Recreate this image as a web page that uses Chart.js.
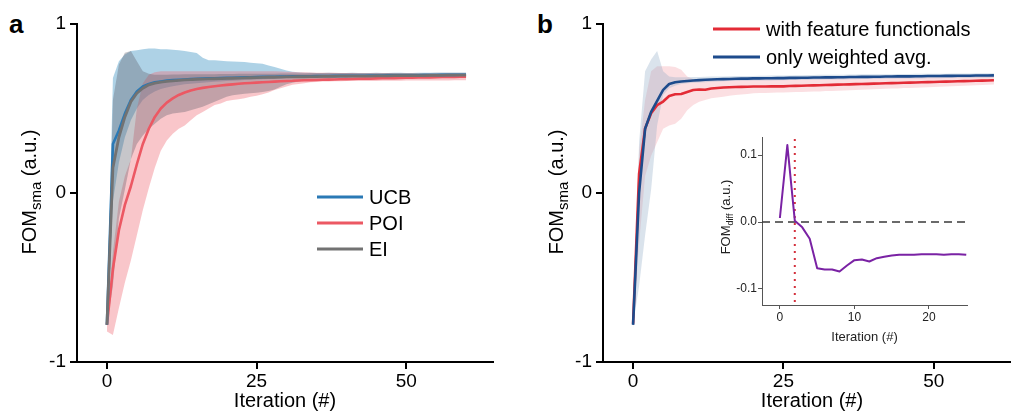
<!DOCTYPE html>
<html>
<head>
<meta charset="utf-8">
<script src="https://cdn.jsdelivr.net/npm/chart.js@4.4.1/dist/chart.umd.min.js"></script>
<style>
  html, body { margin: 0; padding: 0; background: #fff; overflow: hidden; }
  body { position: relative; width: 1011px; height: 413px; font-family: "Liberation Sans", Arial, sans-serif; }
  canvas { position: absolute; }
  .tag { position: absolute; font-size: 26px; font-weight: bold; line-height: 1; color: #000; }
</style>
</head>
<body>
<div class="tag" style="left:9px; top:11px">a</div>
<div class="tag" style="left:537px; top:11px">b</div>
<canvas id="panelA" width="505" height="413" style="left:0; top:0"></canvas>
<canvas id="panelB" width="530" height="413" style="left:510px; top:0"></canvas>
<canvas id="inset" width="300" height="225" style="left:690px; top:125px"></canvas>
<script>
// x positions: optimisation iterations
const iterations = Array.from({length: 61}, (_, i) => i);
const diffIterations = Array.from({length: 26}, (_, i) => i);

const xTickValues = [0, 25, 50];
const xTickLabels = ['0', '25', '50'];
const yTickValues = [-1, 0, 1];
const yTickLabels = ['-1', '0', '1'];
const insetXTicks = [0, 10, 20];
const insetXLabels = ['0', '10', '20'];
const insetYTicks = [-0.1, 0, 0.1];
const insetYLabels = ['-0.1', '0.0', '0.1'];

// panel a: acquisition functions, mean and spread
const acqNames = ['UCB', 'POI', 'EI'];
const acqColors = ['#2a79b5', '#ec5863', '#727272'];
const acqBandColors = ['rgba(120,180,214,0.6)', 'rgba(238,104,116,0.38)', 'rgba(96,96,108,0.36)'];

const ucbMean = [
  -0.78, 0.29, 0.37, 0.47, 0.55, 0.60, 0.63, 0.645, 0.655, 0.66,
  0.665, 0.668, 0.67, 0.672, 0.674, 0.676, 0.677, 0.678, 0.679, 0.68,
  0.681, 0.682, 0.683, 0.684, 0.685, 0.686, 0.687, 0.688, 0.688, 0.689,
  0.689, 0.69, 0.69, 0.691, 0.691, 0.692, 0.692, 0.692, 0.693, 0.693,
  0.693, 0.694, 0.694, 0.694, 0.695, 0.695, 0.695, 0.696, 0.696, 0.696,
  0.697, 0.697, 0.697, 0.698, 0.698, 0.698, 0.699, 0.699, 0.699, 0.70,
  0.70];
const ucbLow = [
  -0.78, -0.05, 0.18, 0.33, 0.43, 0.50, 0.55, 0.58, 0.60, 0.615,
  0.625, 0.632, 0.638, 0.643, 0.647, 0.65, 0.653, 0.656, 0.658, 0.66,
  0.662, 0.664, 0.666, 0.668, 0.67, 0.672, 0.673, 0.675, 0.676, 0.678,
  0.679, 0.68, 0.681, 0.682, 0.683, 0.684, 0.684, 0.685, 0.685, 0.686,
  0.686, 0.687, 0.687, 0.688, 0.688, 0.688, 0.689, 0.689, 0.69, 0.69,
  0.69, 0.691, 0.691, 0.692, 0.692, 0.692, 0.693, 0.693, 0.693, 0.694,
  0.694];
const ucbHigh = [
  -0.78, 0.68, 0.78, 0.82, 0.84, 0.845, 0.85, 0.855, 0.855, 0.85,
  0.85, 0.848, 0.845, 0.84, 0.835, 0.828, 0.80, 0.785, 0.785, 0.782,
  0.78, 0.778, 0.776, 0.775, 0.77, 0.768, 0.765, 0.755, 0.745, 0.735,
  0.725, 0.718, 0.714, 0.712, 0.711, 0.71, 0.71, 0.711, 0.71, 0.71,
  0.71, 0.711, 0.71, 0.71, 0.71, 0.711, 0.71, 0.71, 0.711, 0.711,
  0.71, 0.71, 0.711, 0.711, 0.712, 0.711, 0.711, 0.712, 0.712, 0.712,
  0.712];

const poiMean = [
  -0.78, -0.45, -0.22, -0.07, 0.04, 0.17, 0.29, 0.38, 0.45, 0.50,
  0.535, 0.56, 0.58, 0.595, 0.607, 0.615, 0.622, 0.627, 0.632, 0.636,
  0.64, 0.643, 0.646, 0.649, 0.651, 0.653, 0.655, 0.657, 0.659, 0.661,
  0.663, 0.664, 0.666, 0.667, 0.668, 0.669, 0.67, 0.671, 0.672, 0.673,
  0.674, 0.675, 0.676, 0.677, 0.677, 0.678, 0.679, 0.68, 0.68, 0.681,
  0.682, 0.682, 0.683, 0.684, 0.684, 0.685, 0.686, 0.686, 0.687, 0.688,
  0.688];
const poiLow = [
  -0.82, -0.84, -0.68, -0.53, -0.40, -0.25, -0.10, 0.03, 0.15, 0.25,
  0.31, 0.35, 0.38, 0.40, 0.43, 0.46, 0.48, 0.50, 0.52, 0.53,
  0.545, 0.55, 0.555, 0.56, 0.57, 0.575, 0.585, 0.595, 0.61, 0.62,
  0.63, 0.64, 0.645, 0.65, 0.655, 0.657, 0.66, 0.66, 0.661, 0.661,
  0.662, 0.662, 0.662, 0.663, 0.663, 0.663, 0.664, 0.664, 0.664, 0.664,
  0.665, 0.665, 0.665, 0.665, 0.666, 0.666, 0.666, 0.666, 0.667, 0.667,
  0.667];
const poiHigh = [
  -0.78, -0.35, -0.05, 0.10, 0.20, 0.50, 0.65, 0.70, 0.715, 0.72,
  0.72, 0.72, 0.72, 0.72, 0.72, 0.72, 0.72, 0.72, 0.72, 0.72,
  0.72, 0.72, 0.721, 0.721, 0.72, 0.72, 0.72, 0.72, 0.72, 0.719,
  0.718, 0.716, 0.715, 0.714, 0.713, 0.712, 0.712, 0.711, 0.711, 0.71,
  0.71, 0.71, 0.709, 0.709, 0.709, 0.708, 0.708, 0.708, 0.707, 0.707,
  0.707, 0.707, 0.706, 0.706, 0.706, 0.706, 0.705, 0.705, 0.705, 0.705,
  0.705];

const eiMean = [
  -0.78, 0.15, 0.33, 0.45, 0.54, 0.59, 0.62, 0.64, 0.65, 0.656,
  0.66, 0.664, 0.667, 0.669, 0.671, 0.673, 0.674, 0.675, 0.676, 0.677,
  0.678, 0.679, 0.68, 0.681, 0.682, 0.683, 0.684, 0.685, 0.685, 0.686,
  0.687, 0.687, 0.688, 0.688, 0.689, 0.689, 0.69, 0.69, 0.69, 0.691,
  0.691, 0.691, 0.692, 0.692, 0.692, 0.693, 0.693, 0.693, 0.694, 0.694,
  0.694, 0.695, 0.695, 0.695, 0.696, 0.696, 0.696, 0.697, 0.697, 0.697,
  0.698];
const eiLow = [
  -0.78, -0.55, -0.15, 0.02, 0.20, 0.29, 0.34, 0.38, 0.41, 0.44,
  0.46, 0.47, 0.475, 0.48, 0.49, 0.50, 0.51, 0.525, 0.54, 0.555,
  0.57, 0.578, 0.583, 0.587, 0.59, 0.593, 0.597, 0.603, 0.613, 0.628,
  0.643, 0.653, 0.66, 0.665, 0.668, 0.671, 0.673, 0.675, 0.677, 0.678,
  0.679, 0.68, 0.681, 0.682, 0.683, 0.683, 0.684, 0.684, 0.685, 0.685,
  0.686, 0.686, 0.687, 0.687, 0.687, 0.688, 0.688, 0.688, 0.689, 0.689,
  0.689];
const eiHigh = [
  -0.78, 0.55, 0.76, 0.83, 0.84, 0.78, 0.72, 0.705, 0.70, 0.70,
  0.70, 0.701, 0.701, 0.702, 0.702, 0.702, 0.703, 0.703, 0.703, 0.704,
  0.704, 0.704, 0.705, 0.705, 0.705, 0.706, 0.706, 0.706, 0.706, 0.707,
  0.707, 0.707, 0.707, 0.707, 0.708, 0.708, 0.708, 0.708, 0.708, 0.708,
  0.709, 0.709, 0.709, 0.709, 0.709, 0.709, 0.709, 0.71, 0.71, 0.71,
  0.71, 0.71, 0.71, 0.71, 0.71, 0.711, 0.711, 0.711, 0.711, 0.711,
  0.711];

// panel b: descriptor sets
const setNames = ['with feature functionals', 'only weighted avg.'];
const setColors = ['#e32b36', '#1d4b8c'];
const setBandColors = ['rgba(240,128,140,0.25)', 'rgba(140,168,196,0.32)'];

const featMean = [
  -0.774, 0.115, 0.382, 0.472, 0.52, 0.541, 0.574, 0.584, 0.586, 0.598,
  0.609, 0.612, 0.611, 0.618, 0.621, 0.624, 0.626, 0.627, 0.628, 0.629,
  0.63, 0.63, 0.63, 0.631, 0.632, 0.631, 0.633, 0.634, 0.635, 0.636,
  0.637, 0.638, 0.639, 0.64, 0.641, 0.642, 0.643, 0.644, 0.645, 0.646,
  0.647, 0.648, 0.649, 0.65, 0.651, 0.652, 0.653, 0.654, 0.655, 0.656,
  0.657, 0.658, 0.659, 0.66, 0.661, 0.662, 0.663, 0.664, 0.665, 0.666,
  0.667];
const featLow = [
  -0.80, -0.30, 0.10, 0.22, 0.30, 0.38, 0.40, 0.41, 0.44, 0.49,
  0.52, 0.54, 0.55, 0.56, 0.565, 0.57, 0.575, 0.58, 0.583, 0.586,
  0.59, 0.591, 0.592, 0.593, 0.594, 0.595, 0.596, 0.597, 0.598, 0.599,
  0.60, 0.601, 0.603, 0.604, 0.605, 0.607, 0.608, 0.61, 0.611, 0.612,
  0.614, 0.615, 0.617, 0.618, 0.619, 0.621, 0.622, 0.623, 0.625, 0.626,
  0.627, 0.629, 0.63, 0.632, 0.633, 0.634, 0.636, 0.637, 0.639, 0.64,
  0.642];
const featHigh = [
  -0.76, 0.25, 0.55, 0.72, 0.75, 0.75, 0.75, 0.745, 0.73, 0.69,
  0.675, 0.672, 0.67, 0.67, 0.67, 0.671, 0.672, 0.672, 0.673, 0.673,
  0.674, 0.674, 0.675, 0.675, 0.676, 0.676, 0.677, 0.677, 0.678, 0.678,
  0.679, 0.679, 0.68, 0.68, 0.681, 0.681, 0.682, 0.682, 0.683, 0.683,
  0.684, 0.684, 0.685, 0.685, 0.686, 0.686, 0.687, 0.687, 0.688, 0.688,
  0.689, 0.689, 0.69, 0.69, 0.691, 0.691, 0.692, 0.692, 0.693, 0.693,
  0.694];

const wavgMean = [
  -0.78, 0.00, 0.38, 0.48, 0.545, 0.61, 0.645, 0.655, 0.66, 0.663,
  0.666, 0.668, 0.67, 0.672, 0.673, 0.674, 0.675, 0.676, 0.677, 0.677,
  0.678, 0.678, 0.679, 0.679, 0.68, 0.68, 0.681, 0.681, 0.682, 0.682,
  0.683, 0.683, 0.684, 0.684, 0.685, 0.685, 0.686, 0.686, 0.687, 0.687,
  0.688, 0.688, 0.689, 0.689, 0.69, 0.69, 0.69, 0.691, 0.691, 0.692,
  0.692, 0.692, 0.693, 0.693, 0.694, 0.694, 0.694, 0.695, 0.695, 0.695,
  0.696];
const wavgLow = [
  -0.78, -0.55, -0.25, 0.02, 0.40, 0.58, 0.62, 0.635, 0.645, 0.65,
  0.652, 0.654, 0.656, 0.658, 0.66, 0.661, 0.662, 0.663, 0.664, 0.664,
  0.665, 0.665, 0.666, 0.666, 0.667, 0.667, 0.668, 0.668, 0.669, 0.669,
  0.67, 0.67, 0.671, 0.671, 0.672, 0.672, 0.673, 0.673, 0.674, 0.674,
  0.675, 0.675, 0.676, 0.676, 0.677, 0.677, 0.678, 0.678, 0.678, 0.679,
  0.679, 0.679, 0.68, 0.68, 0.681, 0.681, 0.681, 0.682, 0.682, 0.682,
  0.683];
const wavgHigh = [
  -0.78, 0.30, 0.72, 0.79, 0.84, 0.72, 0.69, 0.685, 0.685, 0.685,
  0.686, 0.687, 0.688, 0.689, 0.69, 0.69, 0.691, 0.692, 0.692, 0.693,
  0.693, 0.694, 0.694, 0.695, 0.695, 0.696, 0.696, 0.697, 0.697, 0.698,
  0.698, 0.699, 0.699, 0.70, 0.70, 0.70, 0.701, 0.701, 0.702, 0.702,
  0.702, 0.703, 0.703, 0.703, 0.704, 0.704, 0.704, 0.705, 0.705, 0.705,
  0.706, 0.706, 0.706, 0.707, 0.707, 0.707, 0.707, 0.708, 0.708, 0.708,
  0.708];

// inset: difference of the two mean curves
const fomDiff = [
  0.006, 0.115, 0.002, -0.008, -0.025, -0.069, -0.071, -0.071, -0.074, -0.065,
  -0.057, -0.056, -0.059, -0.054, -0.052, -0.050, -0.049, -0.049, -0.049, -0.048,
  -0.048, -0.048, -0.049, -0.048, -0.048, -0.049];
const diffColor = '#7a22a4';
const diffZero = 0;
const diffMarkIteration = 2;

Chart.defaults.font.family = '"Liberation Sans", Arial, sans-serif';
Chart.defaults.color = '#000';

const FONT = '"Liberation Sans", Arial, sans-serif';
const pts = (ys, xs = iterations) => ys.map((y, i) => ({x: xs[i], y}));

function band(low, high, color, order) {
  return [
    {data: pts(low), borderWidth: 0, pointRadius: 0, fill: false, order},
    {data: pts(high), borderWidth: 0, pointRadius: 0, fill: '-1', backgroundColor: color, order}
  ];
}

function trace(ys, color, order, width, xs) {
  return {data: pts(ys, xs), borderColor: color, borderWidth: width, pointRadius: 0,
          fill: false, tension: 0, order, borderJoinStyle: 'round'};
}

// left/bottom axes only, fixed box sizes so the plot areas line up
function frameScales(f) {
  const tickFont = {size: f.tickSize};
  return {
    x: {
      type: 'linear', min: f.xMin, max: f.xMax,
      afterBuildTicks: s => { s.ticks = f.xTicks.map(v => ({value: v})); },
      afterFit: s => { s.height = f.xHeight; },
      ticks: {callback: v => f.xLabels[f.xTicks.indexOf(v)], font: tickFont, color: f.ink,
              padding: f.xPad, maxRotation: 0, autoSkip: false},
      grid: {drawOnChartArea: false, tickLength: f.tickLen, color: f.axis, lineWidth: f.lw},
      border: {color: f.axis, width: f.lw},
      title: {display: true, text: 'Iteration (#)', font: {size: f.titleSize}, color: f.ink,
              padding: {top: 0, bottom: f.titlePad}}
    },
    y: {
      type: 'linear', min: f.yMin, max: f.yMax,
      afterBuildTicks: s => { s.ticks = f.yTicks.map(v => ({value: v})); },
      afterFit: s => { s.width = f.yWidth; },
      ticks: {callback: v => f.yLabels[f.yTicks.indexOf(v)], font: tickFont, color: f.ink,
              padding: f.yPad, autoSkip: false},
      grid: {drawOnChartArea: false, tickLength: f.tickLen, color: f.axis, lineWidth: f.lw},
      border: {color: f.axis, width: f.lw}
    }
  };
}

// rotated y title with a subscript
const sideTitle = {
  id: 'sideTitle',
  afterDraw(chart, args, o) {
    const ctx = chart.ctx;
    const parts = [
      [o.main, o.size, 0],
      [o.sub, o.subSize, o.subDrop],
      [' ' + o.tail, o.size, 0]
    ];
    ctx.save();
    ctx.fillStyle = o.color || '#000';
    ctx.textBaseline = 'alphabetic';
    let total = 0;
    const widths = parts.map(([t, s]) => {
      ctx.font = s + 'px ' + FONT;
      const w = ctx.measureText(t).width;
      total += w;
      return w;
    });
    ctx.translate(o.x, o.y);
    ctx.rotate(-Math.PI / 2);
    let u = -total / 2;
    parts.forEach(([t, s, drop], i) => {
      ctx.font = s + 'px ' + FONT;
      ctx.fillText(t, u, drop);
      u += widths[i];
    });
    ctx.restore();
  }
};

// legend drawn as line samples with labels
const lineKey = {
  id: 'lineKey',
  afterDraw(chart, args, o) {
    const ctx = chart.ctx;
    ctx.save();
    ctx.font = o.size + 'px ' + FONT;
    ctx.textBaseline = 'middle';
    o.names.forEach((name, i) => {
      const y = o.y + i * o.gap;
      ctx.strokeStyle = o.colors[i];
      ctx.lineWidth = o.width;
      ctx.beginPath();
      ctx.moveTo(o.x, y);
      ctx.lineTo(o.x + o.len, y);
      ctx.stroke();
      ctx.fillStyle = '#000';
      ctx.fillText(name, o.x + o.len + o.space, y + 1);
    });
    ctx.restore();
  }
};

// zero reference and marker line for the inset
const guides = {
  id: 'guides',
  beforeDatasetsDraw(chart, args, o) {
    const {ctx, chartArea: a, scales: {x, y}} = chart;
    ctx.save();
    ctx.setLineDash([8, 5]);
    ctx.strokeStyle = '#3a3a3a';
    ctx.lineWidth = 1.5;
    const y0 = y.getPixelForValue(o.level);
    ctx.beginPath();
    ctx.moveTo(a.left, y0);
    ctx.lineTo(a.right, y0);
    ctx.stroke();
    ctx.setLineDash([2, 5]);
    ctx.strokeStyle = '#d4303c';
    ctx.lineWidth = 2;
    const xm = x.getPixelForValue(o.mark);
    ctx.beginPath();
    ctx.moveTo(xm, a.top + 2);
    ctx.lineTo(xm, a.bottom);
    ctx.stroke();
    ctx.restore();
  }
};

const mainFrame = {
  xMin: -5, xMax: 64.5, yMin: -1, yMax: 1,
  xTicks: xTickValues, xLabels: xTickLabels, yTicks: yTickValues, yLabels: yTickLabels,
  xHeight: 51, tickSize: 19, titleSize: 20, tickLen: 7, lw: 2,
  axis: '#000', ink: '#000', xPad: 1, yPad: 4, titlePad: 0
};

new Chart(document.getElementById('panelA'), {
  type: 'line',
  data: {
    datasets: [
      ...band(ucbLow, ucbHigh, acqBandColors[0], 3),
      ...band(poiLow, poiHigh, acqBandColors[1], 2),
      ...band(eiLow, eiHigh, acqBandColors[2], 1),
      trace(poiMean, acqColors[1], 0.3, 2.6),
      trace(ucbMean, acqColors[0], 0.2, 2.6),
      trace(eiMean, acqColors[2], 0.1, 2.8)
    ]
  },
  options: {
    responsive: false,
    animation: false,
    layout: {padding: {top: 24, right: 12, left: 0, bottom: 0}},
    scales: frameScales({...mainFrame, yWidth: 77}),
    plugins: {
      legend: {display: false},
      tooltip: {enabled: false},
      sideTitle: {main: 'FOM', sub: 'sma', tail: '(a.u.)', size: 20, subSize: 15, subDrop: 5, x: 36, y: 192},
      lineKey: {names: acqNames, colors: acqColors, x: 317, y: 197, gap: 26, len: 46, space: 6, width: 3, size: 20}
    }
  },
  plugins: [sideTitle, lineKey]
});

new Chart(document.getElementById('panelB'), {
  type: 'line',
  data: {
    datasets: [
      ...band(featLow, featHigh, setBandColors[0], 2),
      ...band(wavgLow, wavgHigh, setBandColors[1], 1),
      trace(featMean, setColors[0], 0.2, 2.6),
      trace(wavgMean, setColors[1], 0.1, 2.6)
    ]
  },
  options: {
    responsive: false,
    animation: false,
    layout: {padding: {top: 24, right: 19, left: 0, bottom: 0}},
    scales: frameScales({...mainFrame, yWidth: 93}),
    plugins: {
      legend: {display: false},
      tooltip: {enabled: false},
      sideTitle: {main: 'FOM', sub: 'sma', tail: '(a.u.)', size: 20, subSize: 15, subDrop: 5, x: 53, y: 192},
      lineKey: {names: setNames, colors: setColors, x: 203, y: 29, gap: 28, len: 47, space: 6, width: 3, size: 20}
    }
  },
  plugins: [sideTitle, lineKey]
});

new Chart(document.getElementById('inset'), {
  type: 'line',
  data: {
    datasets: [trace(fomDiff, diffColor, 0, 2, diffIterations)]
  },
  options: {
    responsive: false,
    animation: false,
    layout: {padding: {top: 12, right: 23, left: 0, bottom: 0}},
    scales: frameScales({
      xMin: -2.4, xMax: 25.1, yMin: -0.124, yMax: 0.127,
      xTicks: insetXTicks, xLabels: insetXLabels, yTicks: insetYTicks, yLabels: insetYLabels,
      xHeight: 45, yWidth: 72, tickSize: 12, titleSize: 13, tickLen: 4, lw: 1,
      axis: '#555', ink: '#222', xPad: 1, yPad: 1, titlePad: 5
    }),
    plugins: {
      legend: {display: false},
      tooltip: {enabled: false},
      sideTitle: {main: 'FOM', sub: 'diff', tail: '(a.u.)', size: 13, subSize: 9, subDrop: 3, x: 40, y: 92, color: '#222'},
      guides: {level: diffZero, mark: diffMarkIteration}
    }
  },
  plugins: [guides, sideTitle]
});
</script>
</body>
</html>
